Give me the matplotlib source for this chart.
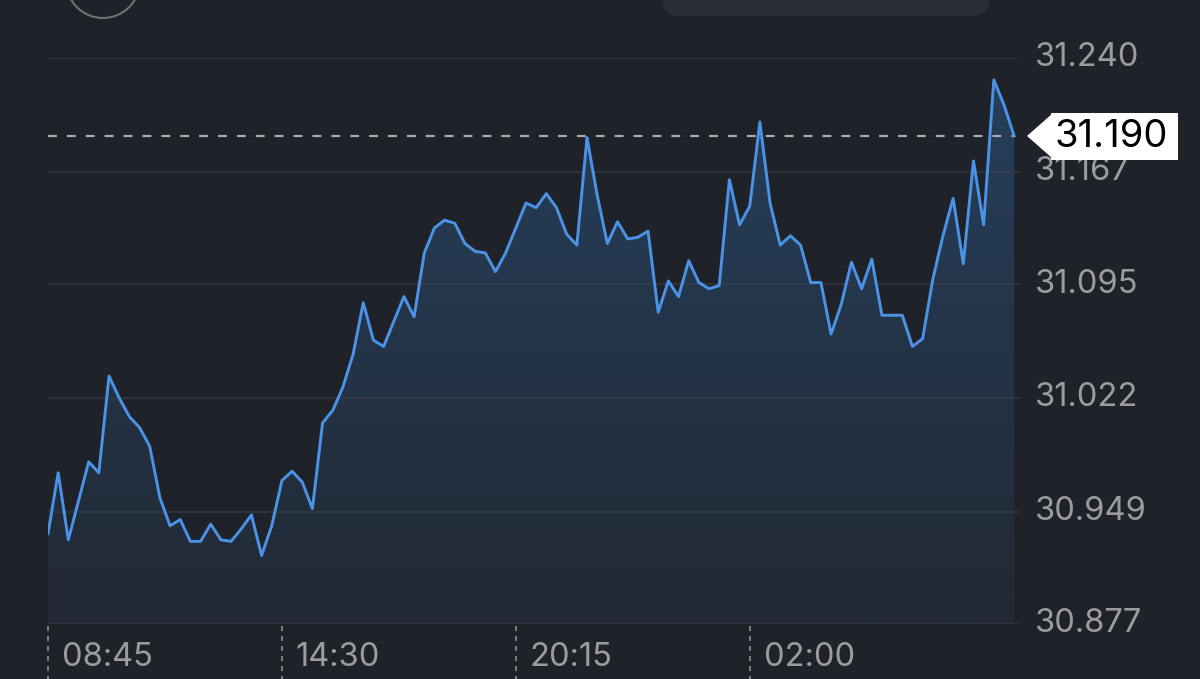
import numpy as np
import matplotlib as mpl
import matplotlib.pyplot as plt
from matplotlib.patches import Circle, FancyBboxPatch, Polygon, Rectangle
from matplotlib.colors import LinearSegmentedColormap
from matplotlib.transforms import Affine2D, blended_transform_factory

mpl.rcParams['font.family'] = ['Inter', 'DejaVu Sans']

# price every 15 min, starting 08:45
price = [30.935, 30.974, 30.931, 30.956, 30.981, 30.974, 31.036, 31.022, 31.010, 31.003,
         30.991, 30.958, 30.940, 30.944, 30.930, 30.930, 30.941, 30.931, 30.930, 30.938,
         30.947, 30.921, 30.940, 30.969, 30.975, 30.968, 30.951, 31.006, 31.014, 31.029,
         31.050, 31.083, 31.059, 31.055, 31.071, 31.087, 31.074, 31.115, 31.131, 31.136,
         31.134, 31.121, 31.116, 31.115, 31.103, 31.115, 31.131, 31.147, 31.144, 31.153,
         31.144, 31.127, 31.120, 31.189, 31.152, 31.121, 31.135, 31.124, 31.125, 31.129,
         31.077, 31.097, 31.087, 31.110, 31.096, 31.092, 31.094, 31.162, 31.133, 31.145,
         31.199, 31.147, 31.120, 31.126, 31.120, 31.096, 31.096, 31.063, 31.082, 31.109,
         31.092, 31.111, 31.075, 31.075, 31.075, 31.055, 31.060, 31.098, 31.126, 31.150,
         31.108, 31.174, 31.133, 31.226, 31.210, 31.190]
last_price = 31.190
yticks = [30.877, 30.949, 31.022, 31.095, 31.167, 31.240]
xtick_idx = [0, 23, 46, 69]
xtick_labels = ['08:45', '14:30', '20:15', '02:00']

bg = '#1f2229'
grid = '#30333b'
blue = '#4a93e6'
label_col = '#9a9ca2'

W, H = 1200, 679
fig = plt.figure(figsize=(W / 100, H / 100), dpi=100, facecolor=bg)
# pixel coords, origin top-left
pix = Affine2D().scale(1 / 100, -1 / 100).translate(0, H / 100) + fig.dpi_scale_trans

# plot area: x 48..1020 px, y 58..624 px
ax = fig.add_axes([48 / W, (H - 624) / H, (1020 - 48) / W, (624 - 58) / H])
ax.set_facecolor(bg)
x = np.arange(len(price))
step = 10.17
for s in ax.spines.values():
    s.set_visible(False)
ax.set_xticks([])
ax.set_yticks([])

for yv in yticks:
    ax.axhline(yv, color='#3a3e47', lw=1.5, alpha=0.6, zorder=3)

# gradient fill under the line
verts = [(0, yticks[0])] + list(zip(x, price)) + [(x[-1], yticks[0])]
poly = Polygon(verts, closed=True, facecolor='none', edgecolor='none')
ax.add_patch(poly)
cmap = LinearSegmentedColormap.from_list('g', ['#222934', '#26405d'])
grad = np.linspace(0, 1, 256).reshape(-1, 1)
im = ax.imshow(grad, cmap=cmap, aspect='auto', origin='lower',
               extent=[0, x[-1], yticks[0], yticks[-1]], zorder=2)
im.set_clip_path(poly)
ax.set_xlim(0, (1020 - 48) / step)
ax.set_ylim(yticks[0], yticks[-1])

ax.plot(x, price, color=blue, lw=2.1, zorder=5)

# last price dashed line
ax.plot([0, x[-1]], [last_price, last_price], color='#a9abb0', lw=1.6,
        ls=(0, (4, 4.5)), zorder=4)

# y labels on the right
ylab_tr = blended_transform_factory(fig.transFigure, ax.transData)
for yv in yticks:
    ax.text(1035 / W, yv, '%.3f' % yv, transform=ylab_tr, clip_on=False,
            ha='left', va='center', fontsize=23.5, color=label_col)

# last price tag
tag_y = H - ax.transData.transform((0, last_price))[1]
fig.patches.append(Polygon([(1027, tag_y), (1052, tag_y - 22), (1052, tag_y + 22)], closed=True,
                           facecolor='white', edgecolor='none', transform=pix))
fig.patches.append(Rectangle((1051, tag_y - 23), 127, 47, facecolor='white',
                             edgecolor='none', transform=pix))
fig.text(1111, tag_y + 1, '%.3f' % last_price, transform=pix, ha='center', va='center',
         fontsize=27.5, color='black')

# x ticks: dashed verticals below the axis and labels
for i, lab in zip(xtick_idx, xtick_labels):
    px = 48 + i * step
    fig.add_artist(mpl.lines.Line2D([px, px], [626, H], color='#8e9095', lw=1.2,
                                    ls=(0, (3, 3)), transform=pix))
    fig.text(px + 14, 657, lab, transform=pix, ha='left', va='center',
             fontsize=23.5, color=label_col)

# top decorations (partial round button and pill)
fig.patches.append(Circle((103, -19), 37, facecolor='none', edgecolor='#6f7177',
                          lw=1.5, transform=pix))
fig.patches.append(FancyBboxPatch((662, -40), 328, 56,
                                  boxstyle='round,pad=0,rounding_size=18',
                                  facecolor='#2b2e36', edgecolor='none', transform=pix))

fig.savefig('out.png', dpi=100, facecolor=bg)
